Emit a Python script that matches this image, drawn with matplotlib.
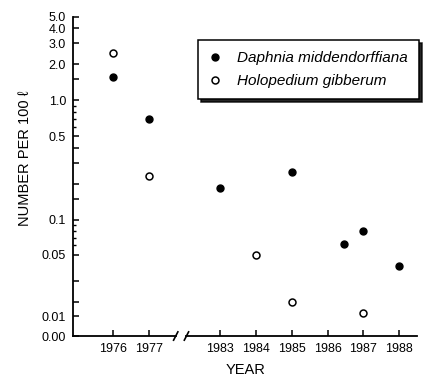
import matplotlib
matplotlib.use("Agg")
import matplotlib.pyplot as plt
import numpy as np

# data (number per 100 l)
daphnia_years = [1976, 1977, 1983, 1985, 1986.45, 1987, 1988]
daphnia = [1.55, 0.70, 0.185, 0.25, 0.062, 0.080, 0.040]
holo_years = [1976, 1977, 1984, 1985, 1987]
holopedium = [2.5, 0.23, 0.05, 0.02, 0.0117]

tick_years = [1976, 1977, 1983, 1984, 1985, 1986, 1987, 1988]
ytick_vals = [0.005, 0.01, 0.02, 0.03, 0.05, 0.1, 0.15, 0.2, 0.3, 0.4, 0.5,
              1.0, 1.5, 2.0, 3.0, 4.0, 5.0]
ytick_labels = ["0.00", "0.01", "", "", "0.05", "0.1", "", "", "", "", "0.5",
                "1.0", "", "2.0", "3.0", "4.0", "5.0"]
yminor_vals = [0.06, 0.07, 0.08, 0.09, 0.6, 0.7, 0.8, 0.9]


def xpos(year):
    # axis is broken between 1977 and 1983
    year = np.asarray(year, dtype=float)
    return np.where(year < 1980, year - 1976, year - 1980)


# the original log axis is hand drawn, lower decade squeezed
anchor_log = np.log10([1e-6, 0.005, 0.01, 0.02, 0.03, 0.05, 0.1, 5.0, 1000])
anchor_pos = [-4.67, -0.9725, -0.806, -0.687, -0.514, -0.292, 0.0, 1.699, 4.0]


def fwd(y):
    return np.interp(np.log10(np.clip(y, 1e-6, None)), anchor_log, anchor_pos)


def inv(u):
    return 10 ** np.interp(u, anchor_pos, anchor_log)


plt.rcParams['font.family'] = ['Liberation Sans', 'DejaVu Sans']
narrow = ['Liberation Sans Narrow', 'Liberation Sans', 'DejaVu Sans']

fig = plt.figure(figsize=(4.3, 3.86), dpi=100)
ax = fig.add_axes([0.170, 0.1295, 0.800, 0.8275])
ax.set_yscale('function', functions=(fwd, inv))

ax.plot(xpos(daphnia_years), daphnia, 'o', color='black', markersize=5,
        label='Daphnia middendorffiana')
ax.plot(xpos(holo_years), holopedium, 'o', markerfacecolor='white',
        markeredgecolor='black', markeredgewidth=1.1, markersize=5,
        label='Holopedium gibberum')

ax.set_xlim(-1.12, 8.5)
ax.set_ylim(0.005, 5.0)

ax.set_xticks(xpos(tick_years))
ax.set_xticklabels([str(y) for y in tick_years], fontsize=9)
ax.set_yticks(ytick_vals)
ax.set_yticklabels(ytick_labels, fontsize=9)
ax.set_yticks(yminor_vals, minor=True)
ax.tick_params(axis='both', which='major', direction='in', length=4.5,
               width=1.1, pad=5)
ax.tick_params(axis='y', which='minor', direction='in', length=2.5, width=1.0)

for s in ['top', 'right', 'bottom']:
    ax.spines[s].set_visible(False)
ax.spines['left'].set_linewidth(1.3)

# bottom axis line with the break marks
tr = ax.get_xaxis_transform()
ax.plot([-1.12, 1.75], [0, 0], color='black', lw=1.3, transform=tr, clip_on=False)
ax.plot([2.05, 8.5], [0, 0], color='black', lw=1.3, transform=tr, clip_on=False)
for bx in [1.75, 2.05]:
    ax.plot([bx - 0.06, bx + 0.06], [-0.013, 0.013], color='black', lw=1.2,
            transform=tr, clip_on=False)

ax.set_xlabel('YEAR', family=narrow, fontsize=10.5, labelpad=6)
ax.set_ylabel('NUMBER PER 100 \u2113', family=narrow, fontsize=10.5)
ax.yaxis.set_label_coords(-0.12, 0.555)

leg = ax.legend(loc='upper right', bbox_to_anchor=(419 / 430, 1 - 40 / 386),
                bbox_transform=fig.transFigure, borderaxespad=0, frameon=True,
                fancybox=False, shadow={'color': 'black', 'alpha': 0.85},
                edgecolor='black', handletextpad=1.1, handlelength=0.7,
                borderpad=0.75, labelspacing=0.55,
                prop={'style': 'italic', 'size': 11})
leg.get_frame().set_linewidth(1.1)

fig.savefig('out.png', dpi=100)
